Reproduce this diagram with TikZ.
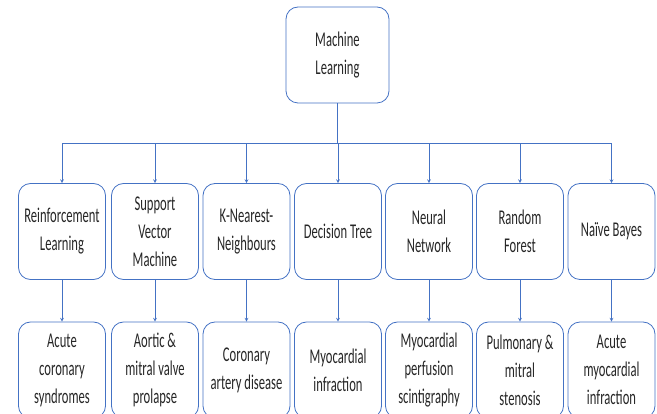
\documentclass[tikz,border=0pt]{standalone}
\usepackage{fontspec}
\setmainfont{Carlito}[FakeStretch=0.6]
\definecolor{mlblue}{RGB}{68,114,196}
\definecolor{mltext}{RGB}{38,38,38}
\begin{document}
\begin{tikzpicture}[x=1pt, y=-1pt, >=stealth,
    box/.style={draw=mlblue, line width=0.8pt, rounded corners=12pt, minimum width=87pt,
      minimum height=96pt, inner sep=0pt, align=center, text=mltext,
      font=\fontsize{21}{28}\selectfont},
    link/.style={draw=mlblue, line width=0.7pt}]
    \useasboundingbox (0,0) rectangle (657,414);
    \clip (0,0) rectangle (657,414);
    % root
    \node[box, minimum width=103pt] (ml) at (337.5,55) {Machine\\Learning};
    \coordinate (bus) at (337.5,143);
    \draw[link] (ml.south) -- (bus);
    % methods and their applications
    \foreach \x/\name/\method/\use in {
        62/rl/{Reinforcement\\Learning}/{Acute\\coronary\\syndromes},
        155/svm/{Support\\Vector\\Machine}/{Aortic \&\\mitral valve\\prolapse},
        246.5/knn/{K-Nearest-\\Neighbours}/{Coronary\\artery disease},
        338/dt/{Decision Tree}/{Myocardial\\infraction},
        429/nn/{Neural\\Network}/{Myocardial\\perfusion\\scintigraphy},
        520/rf/{Random\\Forest}/{Pulmonary \&\\mitral\\stenosis},
        611.5/nb/{Naïve Bayes}/{Acute\\myocardial\\infraction}} {
        \node[box] (\name) at (\x,231.5) {\method};
        \node[box] (\name-use) at (\x,370) {\use};
        \draw[link,->] (bus) -| (\name.north);
        \draw[link,->] (\name.south) -- (\name-use.north);
    }
\end{tikzpicture}
\end{document}
